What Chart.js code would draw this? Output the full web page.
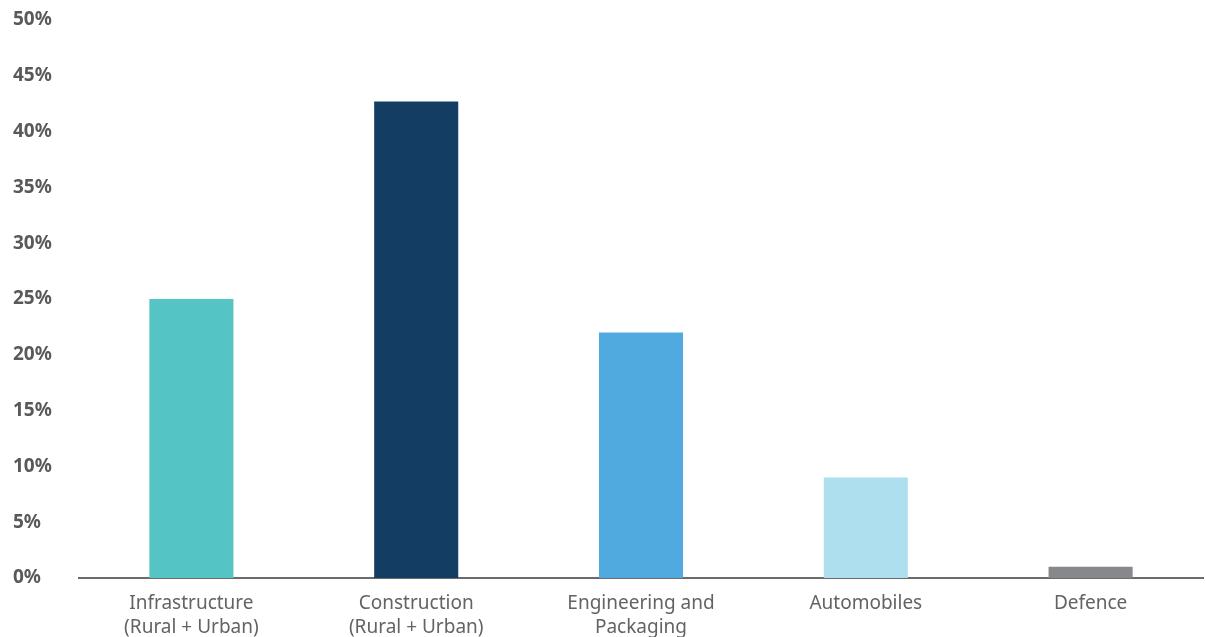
<!DOCTYPE html>
<html>
<head>
<meta charset="utf-8">
<script src="https://cdn.jsdelivr.net/npm/chart.js@4/dist/chart.umd.min.js"></script>
<style>
  html, body { margin: 0; padding: 0; background: #fff; }
  #wrap { width: 1206px; height: 637px; position: relative; }
</style>
</head>
<body>
<div id="wrap"><canvas id="sectorChart"></canvas></div>
<script>
// ── Data ──────────────────────────────────────
const sectors = [
  ['Infrastructure', '(Rural + Urban)'],
  ['Construction', '(Rural + Urban)'],
  ['Engineering and', 'Packaging'],
  'Automobiles',
  'Defence'
];
const shares = [25, 42.7, 22, 9, 1];
const barColors = ['#55C4C5', '#133D63', '#50AADF', '#ADDFEE', '#87888B'];

// ── Chart ─────────────────────────────────────
const ctx = document.getElementById('sectorChart');

new Chart(ctx, {
  type: 'bar',
  data: {
    labels: sectors,
    datasets: [{
      data: shares,
      backgroundColor: barColors,
      borderWidth: 0,
      barPercentage: 0.374,
      categoryPercentage: 1,
    }]
  },
  options: {
    responsive: true,
    maintainAspectRatio: false,
    animation: false,
    layout: { padding: { left: 13, right: 3, top: 20, bottom: 0 } },
    plugins: {
      legend: { display: false },
      tooltip: { enabled: false }
    },
    scales: {
      x: {
        grid: { display: false, drawTicks: false },
        border: { display: true, color: '#6b6b6b', width: 2 },
        ticks: {
          font: { family: 'Noto Sans', size: 19, lineHeight: 1.26 },
          color: '#636363',
          padding: 14,
          maxRotation: 0,
          autoSkip: false,
        },
        afterFit: axis => { axis.height = 59; }
      },
      y: {
        min: 0,
        max: 50,
        grid: { display: false, drawTicks: false },
        border: { display: false },
        ticks: {
          stepSize: 5,
          crossAlign: 'far',
          font: { family: 'Noto Sans', size: 19, weight: 'bold' },
          color: '#595959',
          callback: v => v + '%',
        },
        afterFit: axis => { axis.width = 66; }
      }
    }
  }
});
</script>
</body>
</html>
